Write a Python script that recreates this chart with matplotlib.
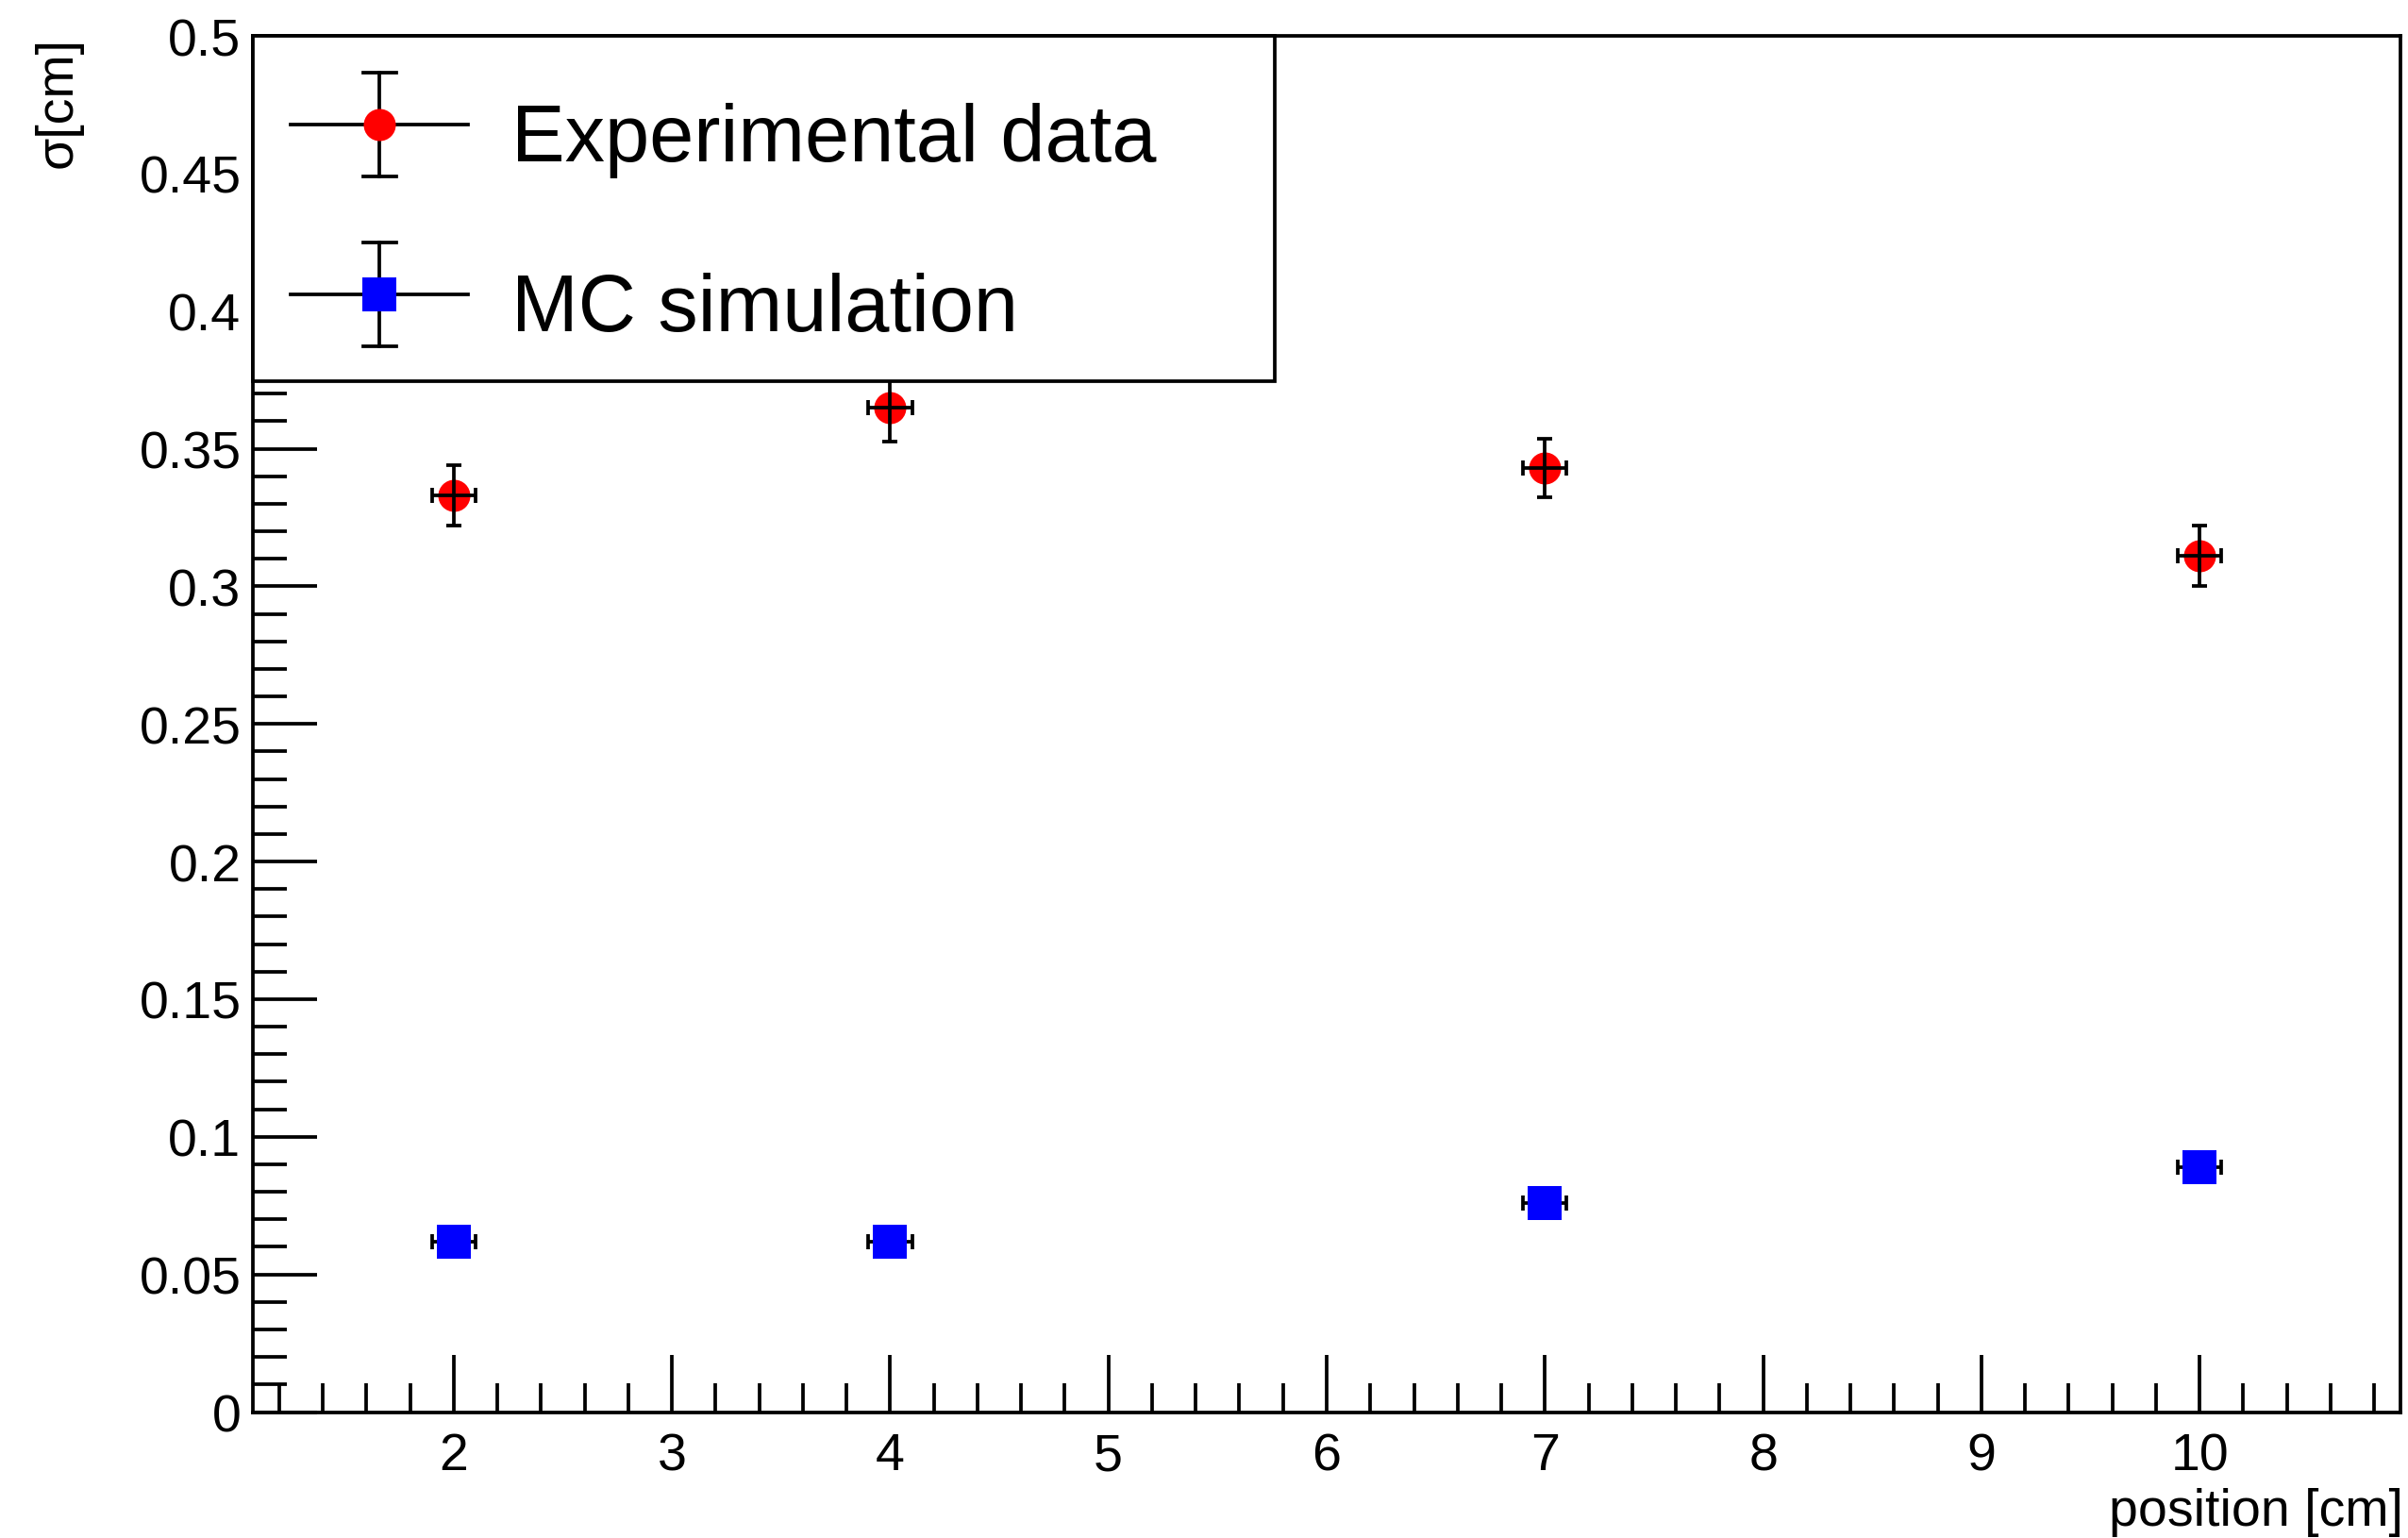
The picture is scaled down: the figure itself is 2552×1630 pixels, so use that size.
import numpy as np
import matplotlib
matplotlib.use('Agg')
import matplotlib.pyplot as plt
from matplotlib.lines import Line2D
from matplotlib.patches import Rectangle
from matplotlib.ticker import MultipleLocator, FuncFormatter

# measured widths of the beam spot vs. source position
positions = [2, 4, 7, 10]
pos_err = [0.1, 0.1, 0.1, 0.1]
sigma_exp = [0.333, 0.365, 0.343, 0.311]
sigma_exp_err = [0.011, 0.0125, 0.0105, 0.011]
sigma_mc = [0.062, 0.062, 0.076, 0.089]
sigma_mc_err = [0.004, 0.004, 0.004, 0.004]
series_labels = ['Experimental data', 'MC simulation']

W, H = 2552, 1631
LW = 2.7

plt.rcParams['font.family'] = ['Liberation Sans', 'DejaVu Sans']


def fx(px):
    return px / W


def fy(py):
    return 1 - py / H


fig = plt.figure(figsize=(W / 100, H / 100), dpi=100)
L, R, T, B = 268, 2544, 39, 1497.5
ax = fig.add_axes([fx(L), fy(B), (R - L) / W, (B - T) / H])

# experimental points: error cross drawn over the marker
ax.plot(positions, sigma_exp, 'o', color='#ff0000', ms=24.5, mew=0, zorder=3)
ax.errorbar(positions, sigma_exp, xerr=pos_err, yerr=sigma_exp_err, fmt='none',
            ecolor='black', elinewidth=LW, capsize=6.1, capthick=LW, zorder=4)

# MC points: marker on top of the error bars
ax.errorbar(positions, sigma_mc, xerr=pos_err, yerr=sigma_mc_err, fmt='none',
            ecolor='black', elinewidth=LW, capsize=6.1, capthick=LW, zorder=3)
ax.plot(positions, sigma_mc, 's', color='#0000ff', ms=25.7, mew=0, zorder=4)

ax.set_xlim(1.08, 10.92)
ax.set_ylim(0, 0.5)

ax.xaxis.set_major_locator(MultipleLocator(1))
ax.xaxis.set_minor_locator(MultipleLocator(0.2))
ax.yaxis.set_major_locator(MultipleLocator(0.05))
ax.yaxis.set_minor_locator(MultipleLocator(0.01))
ax.yaxis.set_major_formatter(FuncFormatter(lambda v, p: '%g' % round(v, 3)))

ax.tick_params(axis='both', which='both', direction='in', top=False, right=False,
               width=LW, labelsize=40)
ax.tick_params(axis='x', which='major', length=44, pad=15)
ax.tick_params(axis='x', which='minor', length=22)
ax.tick_params(axis='y', which='major', length=49, pad=9)
ax.tick_params(axis='y', which='minor', length=26)
for s in ax.spines.values():
    s.set_linewidth(LW)

fig.text(fx(2547), fy(1603), 'position [cm]', ha='right', va='center', fontsize=40)
fig.text(fx(62), fy(39), 'σ[cm]', ha='center', va='top', rotation=90, fontsize=40)

# legend box in the upper left corner
fig.add_artist(Rectangle((fx(L), fy(405)), (1351 - L) / W, (405 - T) / H,
                         transform=fig.transFigure, fc='white', ec='black',
                         lw=LW, zorder=5))

entries = [(133, 'o', '#ff0000', 24.5), (313, 's', '#0000ff', 25.7)]
for (yc, mk, col, ms), label in zip(entries, series_labels):
    mx = 402
    segs = [([308, 496], [yc, yc]),
            ([mx, mx], [yc - 55, yc + 55]),
            ([mx - 17.5, mx + 17.5], [yc - 55, yc - 55]),
            ([mx - 17.5, mx + 17.5], [yc + 55, yc + 55])]
    for xs, ys in segs:
        fig.add_artist(Line2D([fx(x) for x in xs], [fy(y) for y in ys],
                              transform=fig.transFigure, color='black',
                              lw=LW, zorder=6))
    fig.add_artist(Line2D([fx(mx)], [fy(yc)], transform=fig.transFigure,
                          marker=mk, color=col, ms=ms, mew=0, ls='none', zorder=7))
    fig.text(fx(542), fy(yc + 16), label, ha='left', va='center', fontsize=61, zorder=7)

fig.savefig('out.png', dpi=100, facecolor='white')
